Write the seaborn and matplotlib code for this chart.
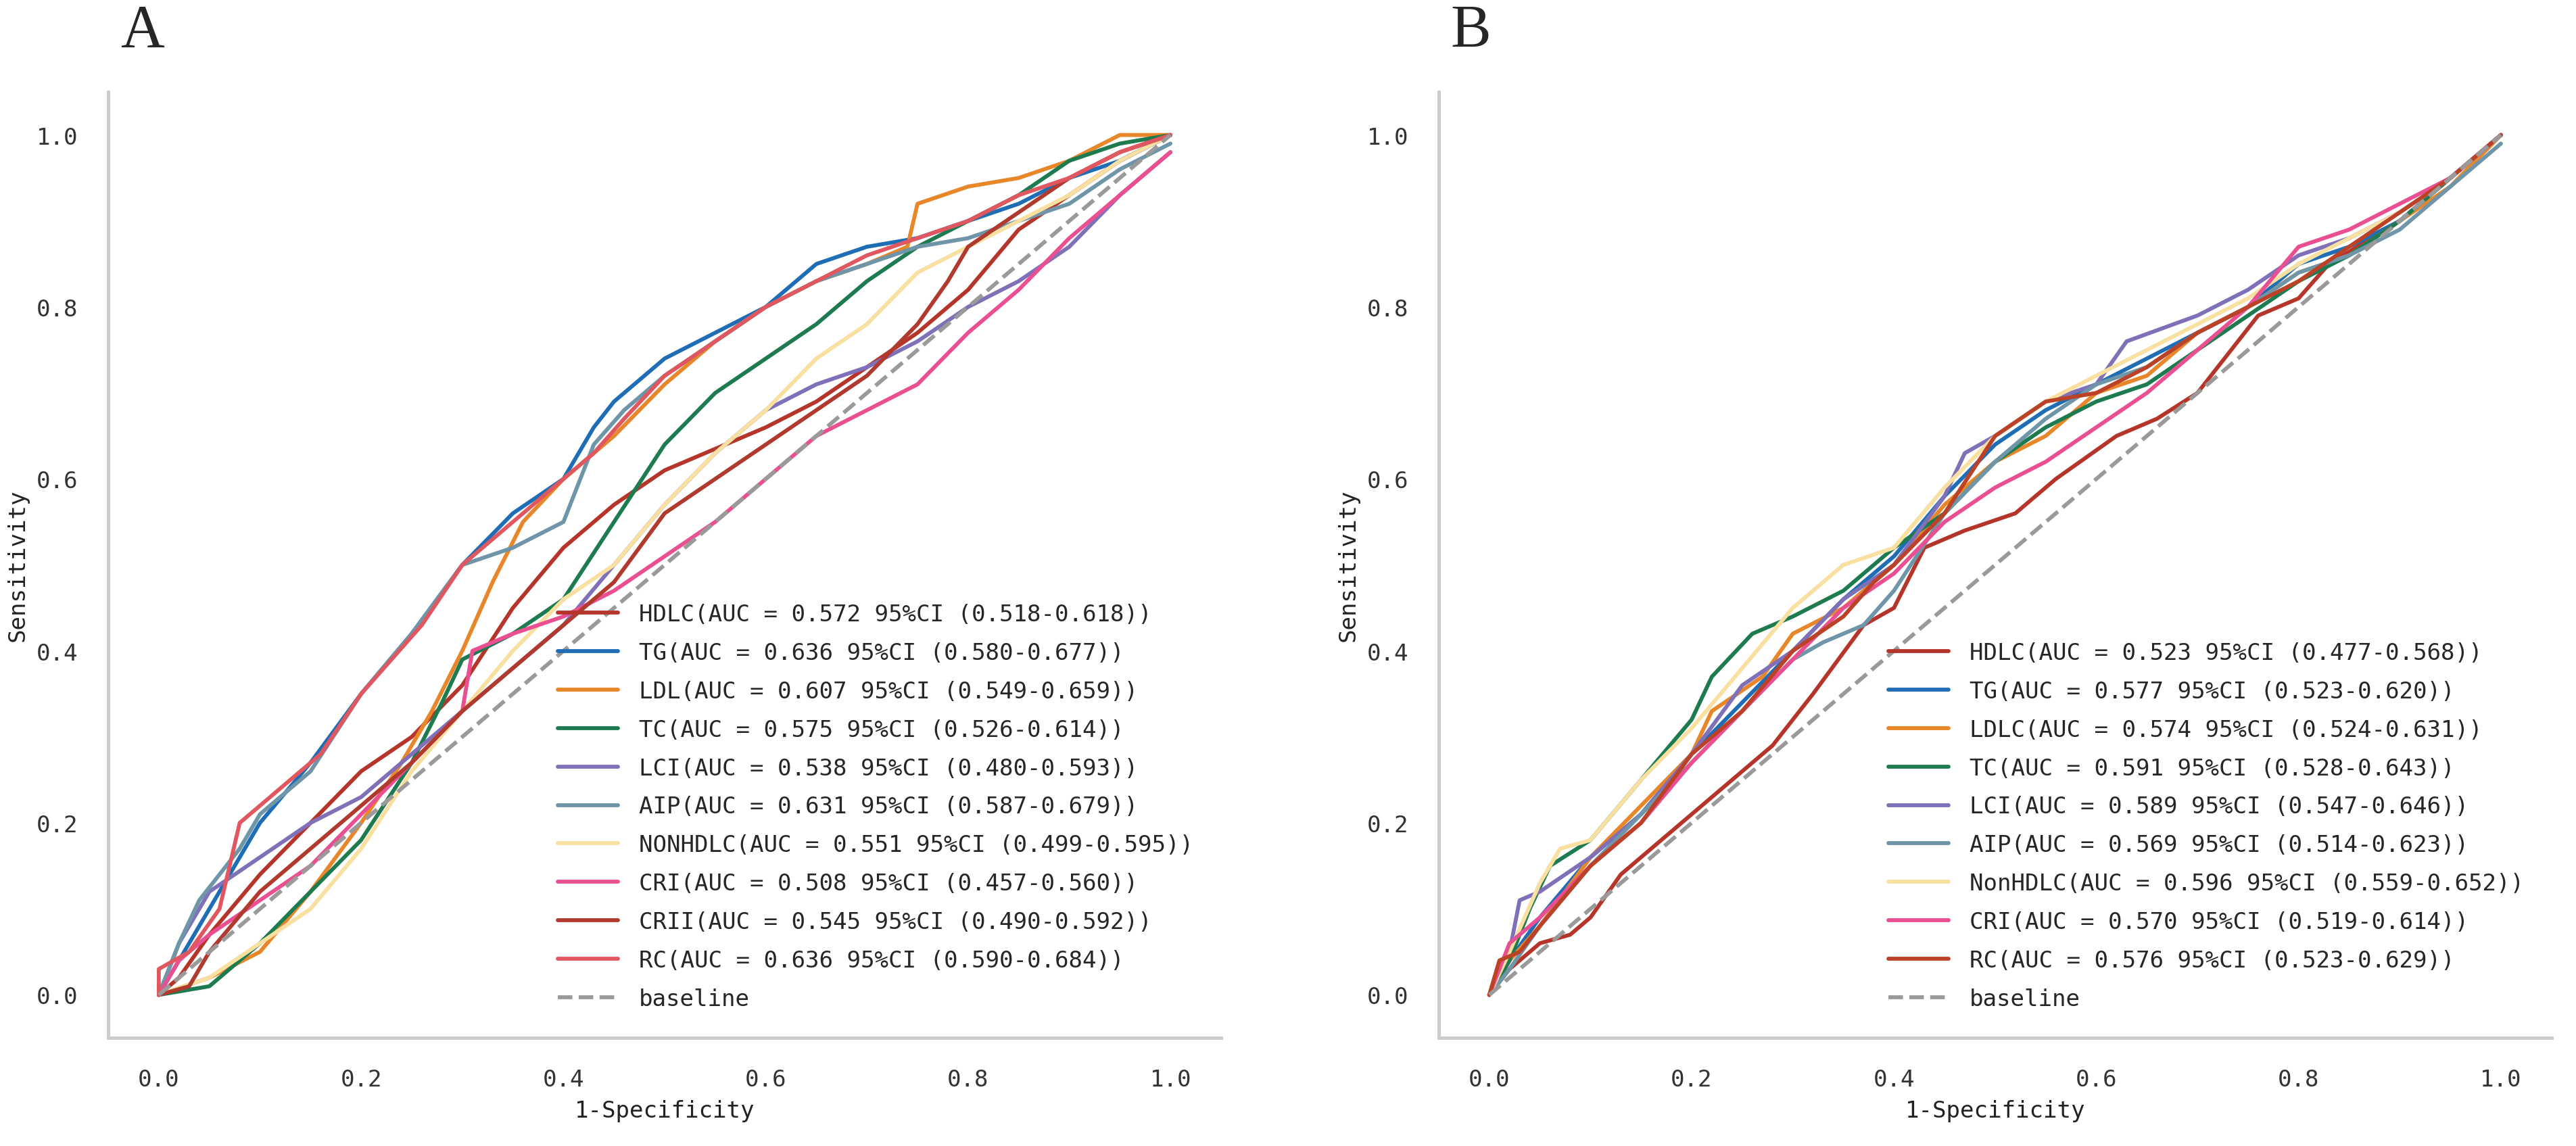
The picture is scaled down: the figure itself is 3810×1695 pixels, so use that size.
import matplotlib
matplotlib.use("Agg")
import matplotlib.pyplot as plt
import seaborn as sns

# ── Setup ──────────────────────────────────────────────
sns.set_style("white")
plt.rcParams["font.family"] = ["DejaVu Sans Mono"]
plt.rcParams["axes.edgecolor"] = "#cccccc"
plt.rcParams["axes.linewidth"] = 1.2

# ── Panel A data (1-Specificity, Sensitivity) ─────────
hdlc_a_x = [0, 0.02, 0.05, 0.1, 0.15, 0.2, 0.25, 0.3, 0.35, 0.4, 0.45, 0.5, 0.55, 0.6, 0.65, 0.7, 0.75, 0.8, 0.85, 0.9, 0.95, 1.0]
hdlc_a_y = [0, 0.02, 0.07, 0.14, 0.2, 0.26, 0.3, 0.36, 0.45, 0.52, 0.57, 0.61, 0.635, 0.66, 0.69, 0.73, 0.77, 0.82, 0.89, 0.93, 0.97, 1.0]

tg_a_x = [0, 0.03, 0.06, 0.1, 0.15, 0.2, 0.25, 0.3, 0.35, 0.4, 0.43, 0.45, 0.5, 0.55, 0.6, 0.65, 0.7, 0.75, 0.8, 0.85, 0.9, 0.95, 1.0]
tg_a_y = [0, 0.06, 0.12, 0.2, 0.27, 0.35, 0.42, 0.5, 0.56, 0.6, 0.66, 0.69, 0.74, 0.77, 0.8, 0.85, 0.87, 0.88, 0.9, 0.92, 0.95, 0.97, 1.0]

ldl_a_x = [0, 0.05, 0.1, 0.15, 0.2, 0.24, 0.27, 0.3, 0.33, 0.36, 0.4, 0.45, 0.5, 0.55, 0.6, 0.65, 0.7, 0.74, 0.75, 0.8, 0.85, 0.9, 0.95, 1.0]
ldl_a_y = [0, 0.02, 0.05, 0.12, 0.2, 0.27, 0.33, 0.4, 0.48, 0.55, 0.6, 0.65, 0.71, 0.76, 0.8, 0.83, 0.85, 0.87, 0.92, 0.94, 0.95, 0.97, 1.0, 1.0]

tc_a_x = [0, 0.05, 0.1, 0.15, 0.2, 0.25, 0.28, 0.3, 0.35, 0.4, 0.45, 0.5, 0.55, 0.6, 0.65, 0.7, 0.75, 0.8, 0.85, 0.9, 0.95, 1.0]
tc_a_y = [0, 0.01, 0.06, 0.12, 0.18, 0.27, 0.34, 0.39, 0.42, 0.46, 0.55, 0.64, 0.7, 0.74, 0.78, 0.83, 0.87, 0.9, 0.93, 0.97, 0.99, 1.0]

lci_a_x = [0, 0.02, 0.05, 0.1, 0.15, 0.2, 0.25, 0.3, 0.35, 0.4, 0.45, 0.5, 0.55, 0.6, 0.65, 0.7, 0.75, 0.8, 0.85, 0.9, 0.95, 1.0]
lci_a_y = [0, 0.06, 0.12, 0.16, 0.2, 0.23, 0.28, 0.33, 0.38, 0.43, 0.5, 0.57, 0.63, 0.68, 0.71, 0.73, 0.76, 0.8, 0.83, 0.87, 0.93, 0.98]

aip_a_x = [0, 0.02, 0.04, 0.08, 0.1, 0.15, 0.2, 0.25, 0.3, 0.35, 0.4, 0.43, 0.46, 0.5, 0.55, 0.6, 0.65, 0.7, 0.75, 0.8, 0.85, 0.9, 0.95, 1.0]
aip_a_y = [0, 0.06, 0.11, 0.17, 0.21, 0.26, 0.35, 0.42, 0.5, 0.52, 0.55, 0.64, 0.68, 0.72, 0.76, 0.8, 0.83, 0.85, 0.87, 0.88, 0.9, 0.92, 0.96, 0.99]

nonhdlc_a_x = [0, 0.05, 0.1, 0.15, 0.2, 0.25, 0.3, 0.35, 0.4, 0.45, 0.5, 0.55, 0.6, 0.65, 0.7, 0.75, 0.8, 0.85, 0.9, 0.95, 1.0]
nonhdlc_a_y = [0, 0.02, 0.06, 0.1, 0.17, 0.26, 0.33, 0.4, 0.46, 0.5, 0.57, 0.63, 0.68, 0.74, 0.78, 0.84, 0.87, 0.9, 0.93, 0.97, 1.0]

cri_a_x = [0, 0.02, 0.05, 0.1, 0.15, 0.2, 0.25, 0.3, 0.31, 0.35, 0.4, 0.45, 0.5, 0.55, 0.6, 0.65, 0.7, 0.75, 0.8, 0.85, 0.9, 0.95, 1.0]
cri_a_y = [0, 0.04, 0.07, 0.11, 0.15, 0.21, 0.27, 0.33, 0.4, 0.42, 0.44, 0.47, 0.51, 0.55, 0.6, 0.65, 0.68, 0.71, 0.77, 0.82, 0.88, 0.93, 0.98]

crii_a_x = [0, 0.03, 0.05, 0.1, 0.15, 0.2, 0.25, 0.3, 0.35, 0.4, 0.45, 0.5, 0.55, 0.6, 0.65, 0.7, 0.75, 0.78, 0.8, 0.85, 0.9, 0.95, 1.0]
crii_a_y = [0, 0.01, 0.05, 0.12, 0.17, 0.22, 0.27, 0.33, 0.38, 0.43, 0.48, 0.56, 0.6, 0.64, 0.68, 0.72, 0.78, 0.83, 0.87, 0.91, 0.95, 0.98, 1.0]

rc_a_x = [0, 0.0, 0.03, 0.06, 0.08, 0.1, 0.13, 0.16, 0.2, 0.23, 0.26, 0.3, 0.33, 0.36, 0.4, 0.43, 0.46, 0.5, 0.55, 0.6, 0.65, 0.7, 0.75, 0.8, 0.85, 0.9, 0.95, 1.0]
rc_a_y = [0, 0.03, 0.05, 0.1, 0.2, 0.22, 0.25, 0.28, 0.35, 0.39, 0.43, 0.5, 0.53, 0.56, 0.6, 0.63, 0.67, 0.72, 0.76, 0.8, 0.83, 0.86, 0.88, 0.9, 0.93, 0.95, 0.98, 1.0]

labels_a = [
    "HDLC(AUC = 0.572 95%CI (0.518-0.618))",
    "TG(AUC = 0.636 95%CI (0.580-0.677))",
    "LDL(AUC = 0.607 95%CI (0.549-0.659))",
    "TC(AUC = 0.575 95%CI (0.526-0.614))",
    "LCI(AUC = 0.538 95%CI (0.480-0.593))",
    "AIP(AUC = 0.631 95%CI (0.587-0.679))",
    "NONHDLC(AUC = 0.551 95%CI (0.499-0.595))",
    "CRI(AUC = 0.508 95%CI (0.457-0.560))",
    "CRII(AUC = 0.545 95%CI (0.490-0.592))",
    "RC(AUC = 0.636 95%CI (0.590-0.684))",
]
colors_a = ["#b5352b", "#1f6db5", "#e8862a", "#1e7b50", "#7f70b8",
            "#6f95a8", "#f9e0a0", "#ea4f92", "#b03a2e", "#e05760"]

# ── Panel B data ───────────────────────────────────────
hdlc_b_x = [0, 0.02, 0.05, 0.08, 0.1, 0.13, 0.16, 0.2, 0.24, 0.28, 0.32, 0.37, 0.4, 0.43, 0.47, 0.52, 0.56, 0.62, 0.66, 0.7, 0.76, 0.8, 0.83, 0.9, 0.95, 1.0]
hdlc_b_y = [0, 0.03, 0.06, 0.07, 0.09, 0.14, 0.17, 0.21, 0.25, 0.29, 0.35, 0.43, 0.45, 0.52, 0.54, 0.56, 0.6, 0.65, 0.67, 0.7, 0.79, 0.81, 0.85, 0.9, 0.95, 1.0]

tg_b_x = [0, 0.02, 0.05, 0.1, 0.15, 0.2, 0.25, 0.3, 0.35, 0.4, 0.45, 0.5, 0.55, 0.6, 0.65, 0.7, 0.75, 0.8, 0.85, 0.9, 0.95, 1.0]
tg_b_y = [0, 0.04, 0.09, 0.16, 0.21, 0.28, 0.34, 0.4, 0.46, 0.51, 0.58, 0.64, 0.68, 0.71, 0.74, 0.77, 0.8, 0.85, 0.87, 0.9, 0.95, 1.0]

ldlc_b_x = [0, 0.02, 0.05, 0.1, 0.15, 0.2, 0.22, 0.27, 0.3, 0.35, 0.4, 0.45, 0.5, 0.55, 0.6, 0.65, 0.7, 0.75, 0.8, 0.85, 0.9, 0.95, 1.0]
ldlc_b_y = [0, 0.04, 0.08, 0.16, 0.22, 0.28, 0.33, 0.37, 0.42, 0.45, 0.5, 0.57, 0.62, 0.65, 0.7, 0.72, 0.77, 0.8, 0.84, 0.86, 0.9, 0.94, 1.0]

tc_b_x = [0, 0.02, 0.04, 0.06, 0.1, 0.15, 0.2, 0.22, 0.26, 0.3, 0.35, 0.4, 0.45, 0.5, 0.55, 0.6, 0.65, 0.7, 0.75, 0.8, 0.85, 0.9, 0.95, 1.0]
tc_b_y = [0, 0.04, 0.1, 0.15, 0.18, 0.25, 0.32, 0.37, 0.42, 0.44, 0.47, 0.52, 0.56, 0.62, 0.66, 0.69, 0.71, 0.75, 0.79, 0.83, 0.86, 0.9, 0.95, 1.0]

lci_b_x = [0, 0.02, 0.03, 0.05, 0.1, 0.15, 0.2, 0.25, 0.3, 0.35, 0.4, 0.45, 0.47, 0.5, 0.55, 0.6, 0.63, 0.7, 0.75, 0.8, 0.85, 0.9, 0.95, 1.0]
lci_b_y = [0, 0.05, 0.11, 0.12, 0.16, 0.21, 0.28, 0.36, 0.4, 0.46, 0.5, 0.58, 0.63, 0.65, 0.69, 0.71, 0.76, 0.79, 0.82, 0.86, 0.88, 0.91, 0.95, 1.0]

aip_b_x = [0, 0.02, 0.05, 0.1, 0.15, 0.2, 0.25, 0.3, 0.33, 0.37, 0.4, 0.45, 0.5, 0.55, 0.6, 0.65, 0.7, 0.75, 0.8, 0.85, 0.9, 0.95, 1.0]
aip_b_y = [0, 0.03, 0.08, 0.15, 0.21, 0.27, 0.33, 0.39, 0.41, 0.43, 0.47, 0.56, 0.62, 0.67, 0.71, 0.73, 0.77, 0.8, 0.84, 0.86, 0.89, 0.94, 0.99]

nonhdlc_b_x = [0, 0.02, 0.05, 0.07, 0.1, 0.15, 0.2, 0.25, 0.3, 0.35, 0.4, 0.45, 0.5, 0.55, 0.6, 0.65, 0.7, 0.75, 0.8, 0.85, 0.9, 0.95, 1.0]
nonhdlc_b_y = [0, 0.05, 0.13, 0.17, 0.18, 0.25, 0.31, 0.38, 0.45, 0.5, 0.52, 0.59, 0.65, 0.69, 0.72, 0.75, 0.78, 0.81, 0.85, 0.88, 0.91, 0.95, 1.0]

cri_b_x = [0, 0.02, 0.05, 0.1, 0.15, 0.2, 0.25, 0.3, 0.35, 0.4, 0.45, 0.5, 0.55, 0.6, 0.65, 0.7, 0.75, 0.8, 0.85, 0.9, 0.95, 1.0]
cri_b_y = [0, 0.06, 0.09, 0.15, 0.2, 0.27, 0.33, 0.39, 0.45, 0.49, 0.55, 0.59, 0.62, 0.66, 0.7, 0.75, 0.8, 0.87, 0.89, 0.92, 0.95, 1.0]

rc_b_x = [0, 0.01, 0.03, 0.05, 0.1, 0.15, 0.2, 0.25, 0.3, 0.35, 0.38, 0.4, 0.45, 0.5, 0.55, 0.6, 0.65, 0.7, 0.75, 0.8, 0.85, 0.9, 0.95, 1.0]
rc_b_y = [0, 0.04, 0.05, 0.08, 0.15, 0.2, 0.28, 0.33, 0.4, 0.44, 0.48, 0.5, 0.56, 0.65, 0.69, 0.7, 0.73, 0.77, 0.8, 0.83, 0.87, 0.91, 0.95, 1.0]

labels_b = [
    "HDLC(AUC = 0.523 95%CI (0.477-0.568))",
    "TG(AUC = 0.577 95%CI (0.523-0.620))",
    "LDLC(AUC = 0.574 95%CI (0.524-0.631))",
    "TC(AUC = 0.591 95%CI (0.528-0.643))",
    "LCI(AUC = 0.589 95%CI (0.547-0.646))",
    "AIP(AUC = 0.569 95%CI (0.514-0.623))",
    "NonHDLC(AUC = 0.596 95%CI (0.559-0.652))",
    "CRI(AUC = 0.570 95%CI (0.519-0.614))",
    "RC(AUC = 0.576 95%CI (0.523-0.629))",
]
colors_b = ["#b5352b", "#1f6db5", "#e8862a", "#1e7b50", "#7f70b8",
            "#6f95a8", "#f9e0a0", "#ea4f92", "#bb4127"]

baseline_x = [0, 1]
baseline_y = [0, 1]

curves_a = [(hdlc_a_x, hdlc_a_y), (tg_a_x, tg_a_y), (ldl_a_x, ldl_a_y),
            (tc_a_x, tc_a_y), (lci_a_x, lci_a_y), (aip_a_x, aip_a_y),
            (nonhdlc_a_x, nonhdlc_a_y), (cri_a_x, cri_a_y),
            (crii_a_x, crii_a_y), (rc_a_x, rc_a_y)]
curves_b = [(hdlc_b_x, hdlc_b_y), (tg_b_x, tg_b_y), (ldlc_b_x, ldlc_b_y),
            (tc_b_x, tc_b_y), (lci_b_x, lci_b_y), (aip_b_x, aip_b_y),
            (nonhdlc_b_x, nonhdlc_b_y), (cri_b_x, cri_b_y), (rc_b_x, rc_b_y)]

# ── Figure ─────────────────────────────────────────────
fig = plt.figure(figsize=(12.7, 5.6533), dpi=300)
ax_a = fig.add_axes([0.042, 0.0943, 0.432, 0.8249])
ax_b = fig.add_axes([0.5585, 0.0943, 0.432, 0.8249])


def draw_panel(ax, curves, labels, colors):
    for (xs, ys), lab, col in zip(curves, labels, colors):
        sns.lineplot(x=xs, y=ys, ax=ax, color=col, label=lab,
                     linewidth=1.4, sort=False, estimator=None)
    sns.lineplot(x=baseline_x, y=baseline_y, ax=ax, color="#9a9a9a",
                 label="baseline", linewidth=1.4, linestyle="--",
                 sort=False, estimator=None)
    ax.set_xlim(-0.05, 1.05)
    ax.set_ylim(-0.05, 1.05)
    ax.set_xticks([0, 0.2, 0.4, 0.6, 0.8, 1.0])
    ax.set_yticks([0, 0.2, 0.4, 0.6, 0.8, 1.0])
    ax.tick_params(axis="both", labelsize=8.2, colors="#333333", pad=7.3)
    ax.set_xlabel("1-Specificity", fontsize=8.2, color="#222222", labelpad=3)
    ax.set_ylabel("Sensitivity", fontsize=8.2, color="#222222", labelpad=2.5)
    ax.legend(loc="lower right", frameon=False, fontsize=8.2,
              handlelength=2.6, handletextpad=0.9, labelspacing=0.7,
              borderaxespad=0.8)
    sns.despine(ax=ax)


draw_panel(ax_a, curves_a, labels_a, colors_a)
draw_panel(ax_b, curves_b, labels_b, colors_b)

fig.text(0.0467, 0.9587, "A", fontsize=21.5, family="Liberation Serif",
         ha="left", va="baseline")
fig.text(0.563, 0.9587, "B", fontsize=21.5, family="Liberation Serif",
         ha="left", va="baseline")

fig.savefig("out.png", dpi=300)
plt.close(fig)
